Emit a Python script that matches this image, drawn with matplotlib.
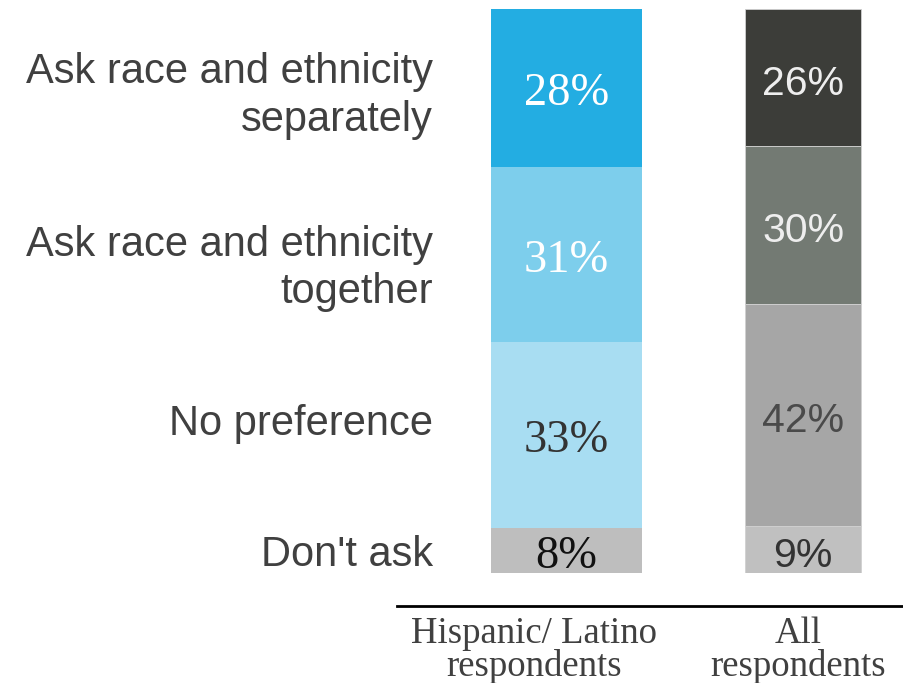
import numpy as np
import matplotlib
matplotlib.use("Agg")
import matplotlib.pyplot as plt

# survey answers, top to bottom
answers = ["Ask race and ethnicity\nseparately", "Ask race and ethnicity\ntogether",
           "No preference", "Don't ask"]
groups = ["Hispanic/ Latino\nrespondents", "All\nrespondents"]
hispanic = [28, 31, 33, 8]
everyone = [26, 30, 42, 9]

hisp_colors = ["#23ADE2", "#7DCEEC", "#A8DDF2", "#BEBEBE"]
all_colors = ["#3C3D39", "#737A73", "#A6A6A6", "#C0C0C0"]
hisp_txt = ["white", "white", "#333333", "#111111"]
all_txt = ["#EEEEEE", "#EEEEEE", "#4A4A4A", "#333333"]

fig = plt.figure(figsize=(9.04, 6.83), dpi=100)
ax = fig.add_axes([397/904, (683-573)/683, 507/904, 564/683])

xpos = [0, 1]
widths = [0.638, 0.49]


def stack(x, w, vals, colors, tcolors, family, size, edge):
    vals = np.array(vals, dtype=float)
    frac = vals / vals.sum()
    top = 1.0
    centers = []
    for v, f, c, tc in zip(vals, frac, colors, tcolors):
        ax.bar(x, f, bottom=top - f, width=w, color=c, edgecolor=edge,
               linewidth=0.6 if edge != "none" else 0)
        mid = top - f / 2
        centers.append(mid)
        ax.annotate(f"{int(v)}%", (x, mid), xytext=(0, -4.5),
                    textcoords="offset points", ha="center", va="center",
                    color=tc, family=family, fontsize=size)
        top -= f
    return centers


mids = stack(xpos[0], widths[0], hispanic, hisp_colors, hisp_txt,
             "Liberation Serif", 33.5, "none")
stack(xpos[1], widths[1], everyone, all_colors, all_txt,
      "Liberation Sans", 29.5, "#D0D0D0")

# answer labels on the left, next to the first bar
nudge = [-0.014, -0.025, 0.02, -0.008]
for lab, m, d in zip(answers, mids, nudge):
    ax.text(-0.564, m + d, lab, ha="right", va="center", color="#404040",
            family="Liberation Sans", fontsize=30, linespacing=1.25)

# group labels below the line
ax.text(-0.137, -0.078, groups[0], ha="center", va="top", color="#404040",
        family="Liberation Serif", fontsize=26.5, linespacing=0.9)
ax.text(xpos[1] - 0.02, -0.078, groups[1], ha="center", va="top", color="#404040",
        family="Liberation Serif", fontsize=26.5, linespacing=0.9)

ax.set_xlim(-0.717, 1.427)
ax.set_ylim(0, 1)
for s in ["top", "right", "left"]:
    ax.spines[s].set_visible(False)
ax.spines["bottom"].set_position(("outward", 24))
ax.spines["bottom"].set_linewidth(2)
ax.spines["bottom"].set_color("black")
ax.set_xticks([])
ax.set_yticks([])

fig.savefig("out.png", dpi=100)
